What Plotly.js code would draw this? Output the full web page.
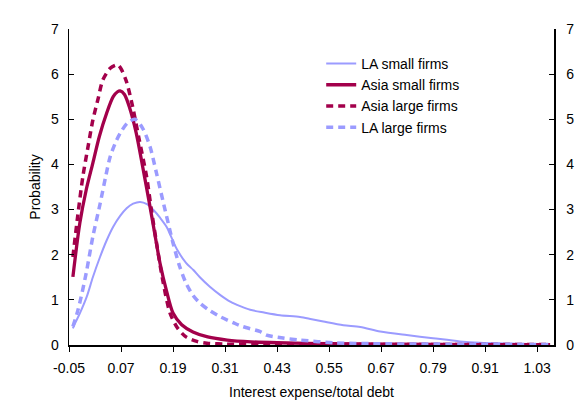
<!DOCTYPE html>
<html>
<head>
<meta charset="utf-8">
<script src="https://cdn.plot.ly/plotly-3.0.1.min.js"></script>
<style>body{margin:0;padding:0;background:#fff;} #chart{width:575px;height:402px;}</style>
</head>
<body>
<div id="chart"></div>
<script>
// Data
const tickVals = [-0.05, 0.07, 0.19, 0.31, 0.43, 0.55, 0.67, 0.79, 0.91, 1.03];
const tickText = ["-0.05", "0.07", "0.19", "0.31", "0.43", "0.55", "0.67", "0.79", "0.91", "1.03"];

const laSmallX = [-0.041, -0.035, -0.025, -0.009, 0.005, 0.022, 0.037, 0.052, 0.068, 0.083, 0.098, 0.114, 0.130, 0.145, 0.160, 0.175, 0.199, 0.220, 0.237, 0.252, 0.275, 0.300, 0.322, 0.345, 0.368, 0.400, 0.437, 0.483, 0.510, 0.537, 0.583, 0.622, 0.668, 0.729, 0.790, 0.852, 0.898, 0.983, 1.060];
const laSmallY = [0.37, 0.50, 0.70, 1.07, 1.50, 1.96, 2.32, 2.62, 2.86, 3.03, 3.13, 3.17, 3.12, 2.99, 2.82, 2.62, 2.12, 1.82, 1.66, 1.50, 1.29, 1.10, 0.96, 0.86, 0.78, 0.72, 0.66, 0.62, 0.57, 0.52, 0.44, 0.40, 0.30, 0.22, 0.15, 0.08, 0.05, 0.03, 0.01];

const asiaSmallX = [-0.041, -0.025, -0.010, 0.005, 0.020, 0.037, 0.052, 0.062, 0.068, 0.078, 0.090, 0.105, 0.120, 0.137, 0.150, 0.160, 0.175, 0.190, 0.210, 0.236, 0.270, 0.315, 0.370, 0.430, 0.550, 0.700, 0.900, 1.060];
const asiaSmallY = [1.51, 2.70, 3.45, 4.03, 4.62, 5.14, 5.50, 5.61, 5.63, 5.55, 5.25, 4.70, 3.95, 3.06, 2.35, 1.81, 1.20, 0.71, 0.45, 0.29, 0.18, 0.11, 0.07, 0.05, 0.03, 0.02, 0.01, 0.01];

const asiaLargeX = [-0.041, -0.030, -0.018, -0.005, 0.005, 0.017, 0.028, 0.045, 0.058, 0.063, 0.070, 0.082, 0.095, 0.112, 0.129, 0.140, 0.152, 0.165, 0.183, 0.200, 0.220, 0.245, 0.268, 0.310, 0.400, 0.550, 0.750, 1.060];
const asiaLargeY = [1.95, 2.85, 3.73, 4.45, 4.98, 5.45, 5.87, 6.13, 6.20, 6.20, 6.12, 5.85, 5.36, 4.55, 3.73, 3.00, 2.26, 1.50, 0.71, 0.38, 0.18, 0.08, 0.04, 0.02, 0.01, 0.01, 0.01, 0.01];

const laLargeX = [-0.041, -0.030, -0.020, -0.009, 0.005, 0.022, 0.035, 0.045, 0.058, 0.068, 0.085, 0.102, 0.120, 0.137, 0.152, 0.168, 0.190, 0.205, 0.220, 0.236, 0.252, 0.275, 0.298, 0.330, 0.350, 0.390, 0.406, 0.440, 0.483, 0.560, 0.650, 0.800, 1.060];
const laLargeY = [0.41, 0.75, 1.15, 1.66, 2.40, 3.14, 3.75, 4.17, 4.50, 4.69, 4.92, 5.00, 4.80, 4.39, 3.80, 3.14, 2.26, 1.75, 1.37, 1.10, 0.93, 0.76, 0.63, 0.49, 0.41, 0.30, 0.22, 0.16, 0.11, 0.05, 0.03, 0.02, 0.01];

const lightBlue = "#9b9bff";
const crimson = "#a3004b";

const traces = [
  {x: laSmallX, y: laSmallY, name: "LA small firms", mode: "lines", line: {color: lightBlue, width: 2, shape: "spline", smoothing: 0.8}},
  {x: asiaSmallX, y: asiaSmallY, name: "Asia small firms", mode: "lines", line: {color: crimson, width: 3.3, shape: "spline", smoothing: 0.8}},
  {x: asiaLargeX, y: asiaLargeY, name: "Asia large firms", mode: "lines", line: {color: crimson, width: 3.5, dash: "7px,5px", shape: "spline", smoothing: 0.8}},
  {x: laLargeX, y: laLargeY, name: "LA large firms", mode: "lines", line: {color: lightBlue, width: 3.5, dash: "7px,5px", shape: "spline", smoothing: 0.8}},
  {x: [null], y: [null], yaxis: "y2", showlegend: false, hoverinfo: "skip", mode: "lines"}
];

const font = {family: "Liberation Sans, Arial, sans-serif", size: 14, color: "#000"};

const layout = {
  width: 575, height: 402,
  margin: {l: 69, r: 21, t: 29, b: 57},
  paper_bgcolor: "#fff", plot_bgcolor: "#fff",
  font: font,
  showlegend: true,
  legend: {x: 0.52, y: 0.94, xanchor: "left", yanchor: "top", bgcolor: "rgba(0,0,0,0)", font: {family: font.family, size: 14, color: "#000"}, tracegroupgap: 0, itemwidth: 30},
  xaxis: {
    range: [-0.05, 1.069], tickmode: "array", tickvals: tickVals, ticktext: tickText,
    showline: true, linecolor: "#000", linewidth: 1.5, ticks: "outside", ticklen: 5, tickcolor: "#000",
    showgrid: false, zeroline: false, ticklabelstandoff: 5,
    title: {text: "Interest expense/total debt", font: {family: font.family, size: 14, color: "#000"}, standoff: 12}
  },
  yaxis: {
    range: [0, 7], dtick: 1, showline: true, linecolor: "#000", linewidth: 1.5, ticks: "inside", ticklen: 5, tickcolor: "#000",
    showgrid: false, zeroline: false, ticklabelstandoff: 6,
    title: {text: "Probability", font: {family: font.family, size: 14, color: "#000"}, standoff: 7}
  },
  yaxis2: {
    range: [0, 7], dtick: 1, overlaying: "y", side: "right", showline: true, linecolor: "#000", linewidth: 1.5,
    ticks: "inside", ticklen: 5, tickcolor: "#000", showgrid: false, zeroline: false, ticklabelstandoff: 8
  }
};

Plotly.newPlot("chart", traces, layout, {staticPlot: true, displayModeBar: false});
</script>
</body>
</html>
